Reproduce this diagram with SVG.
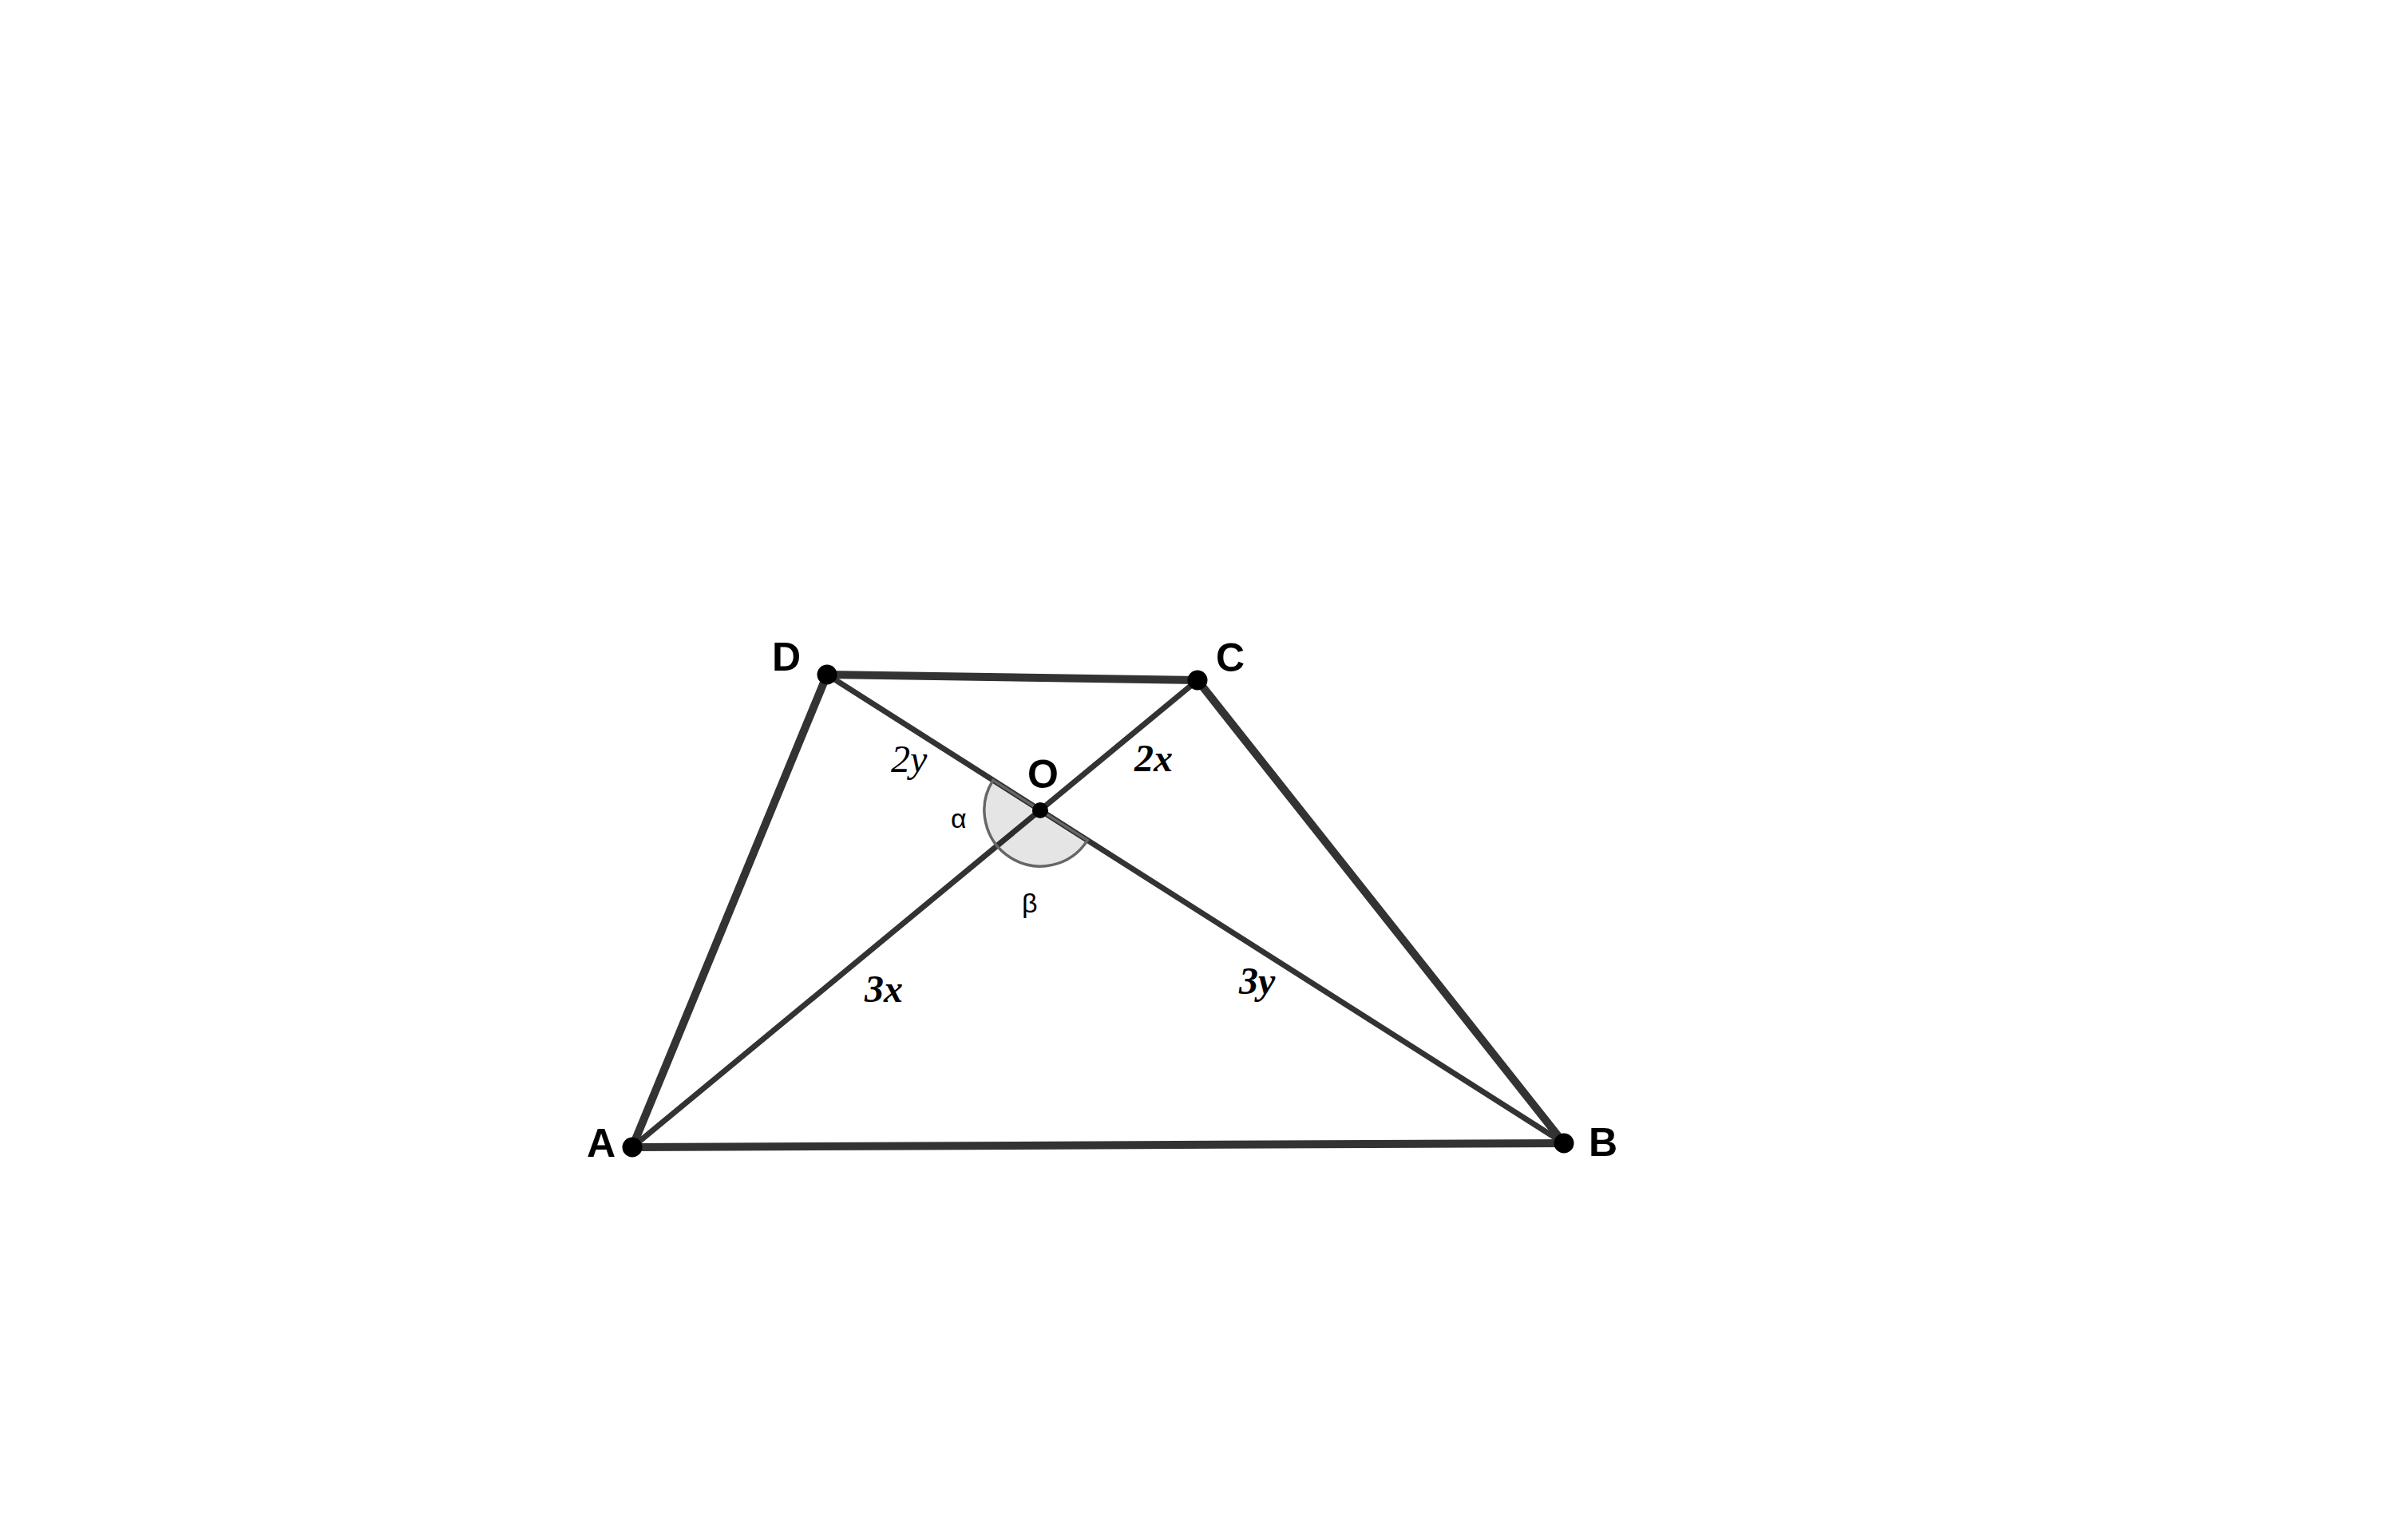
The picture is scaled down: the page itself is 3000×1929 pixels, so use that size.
<svg xmlns="http://www.w3.org/2000/svg" width="3000" height="1929" viewBox="0 0 3000 1929">
<style>
.side{stroke:#333333;stroke-width:10;stroke-linecap:round;fill:none}
.diag{stroke:#333333;stroke-width:7;stroke-linecap:round;fill:none}
.pt{fill:#000000}
.lbl{font-family:"Liberation Sans",Arial,sans-serif;font-weight:bold;font-size:50px;fill:#000}
.greek{font-family:"Liberation Sans",Arial,sans-serif;font-size:34px;fill:#000}
.len{font-family:"Liberation Serif","Times New Roman",serif;font-style:italic;font-size:48px;fill:#000}
.b{font-weight:bold}
</style>
<rect width="3000" height="1929" fill="#ffffff"/>
<g id="connectors">
<line class="side" x1="792" y1="1437" x2="1959" y2="1432"/>
<line class="side" x1="1959" y1="1432" x2="1500" y2="852"/>
<line class="side" x1="1500" y1="852" x2="1036" y2="845"/>
<line class="side" x1="1036" y1="845" x2="792" y2="1437"/>
<line class="diag" x1="792" y1="1437" x2="1500" y2="852"/>
<line class="diag" x1="1036" y1="845" x2="1959" y2="1432"/>
</g>
<g id="angle">
<path d="M1303 1015 L1243.9 977.4 A70 70 0 0 0 1362.1 1052.6 Z" fill="#000" fill-opacity="0.1" stroke="#666666" stroke-width="3.5"/>
<text class="greek" x="1191" y="1037">α</text>
<text class="greek" x="1280" y="1143">β</text>
</g>
<g id="A"><circle class="pt" cx="792" cy="1437" r="12.5"/><text class="lbl" x="735" y="1449">A</text></g>
<g id="B"><circle class="pt" cx="1959" cy="1432" r="12.5"/><text class="lbl" x="1990" y="1448">B</text></g>
<g id="C"><circle class="pt" cx="1500" cy="852" r="12.5"/><text class="lbl" x="1523" y="841">C</text></g>
<g id="D"><circle class="pt" cx="1036" cy="845" r="12.5"/><text class="lbl" x="967" y="840">D</text></g>
<g id="O"><circle class="pt" cx="1303" cy="1015" r="10"/><text class="lbl" x="1287" y="987">O</text></g>
<g id="lengths">
<text class="len" x="1116" y="967">2y</text>
<text class="len b" x="1421" y="966">2x</text>
<text class="len b" x="1083" y="1255">3x</text>
<text class="len b" x="1552" y="1245">3y</text>
</g>
</svg>
